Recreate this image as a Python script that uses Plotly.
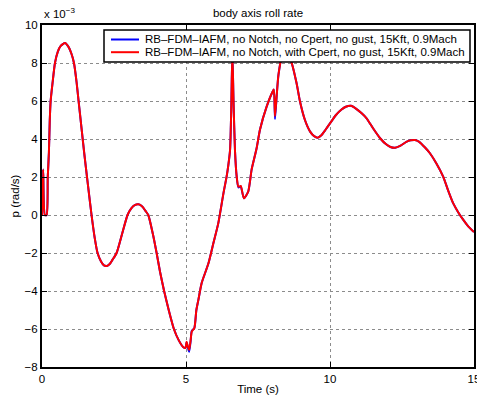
import plotly.graph_objects as go

# Time samples (s)
time_s = [
    0.00, 0.04, 0.10, 0.16, 0.20, 0.24, 0.27, 0.30, 0.37, 0.45,
    0.55, 0.65, 0.80, 0.92, 1.02, 1.11, 1.20, 1.27, 1.37, 1.47,
    1.57, 1.72, 1.83, 1.93, 2.05, 2.15, 2.25, 2.35, 2.45, 2.59,
    2.78, 2.97, 3.10, 3.22, 3.35, 3.48, 3.60, 3.69, 3.85, 3.98,
    4.10, 4.24, 4.40, 4.58, 4.75, 4.90, 4.98, 5.02, 5.07, 5.11,
    5.16, 5.20, 5.29, 5.36, 5.43, 5.54, 5.78, 5.95, 6.12, 6.30,
    6.41, 6.47, 6.53, 6.57, 6.61, 6.65, 6.70, 6.76, 6.82, 6.90,
    7.01, 7.16, 7.28, 7.45, 7.57, 7.80, 8.01, 8.05, 8.09, 8.15,
    8.21, 8.32, 8.45, 8.58, 8.67, 8.84, 8.96, 9.13, 9.31, 9.45,
    9.57, 9.70, 9.85, 10.00, 10.20, 10.40, 10.55, 10.73, 10.90, 11.10,
    11.27, 11.50, 11.74, 11.95, 12.10, 12.26, 12.45, 12.65, 12.80, 12.95,
    13.10, 13.30, 13.47, 13.70, 13.93, 14.10, 14.28, 14.45, 14.63, 14.80,
    15.00,
]

# Roll rate p (x 10^-3 rad/s), with Cpert
p_with_cpert = [
    0.00, 2.40, 0.00, 0.00, 2.00, 3.30, 5.00, 6.00, 7.00, 8.00,
    8.60, 8.90, 9.05, 8.85, 8.50, 8.00, 7.00, 6.00, 4.60, 3.20,
    1.90, 0.00, -1.20, -2.00, -2.45, -2.65, -2.68, -2.58, -2.35, -2.00,
    -1.00, 0.00, 0.35, 0.52, 0.56, 0.45, 0.20, 0.00, -1.00, -2.00,
    -3.00, -4.00, -5.00, -6.00, -6.60, -6.95, -7.00, -6.67, -6.95, -7.10,
    -6.60, -6.14, -5.95, -5.00, -4.47, -3.60, -2.54, -1.49, -0.44, 1.14,
    2.02, 2.63, 3.42, 5.50, 8.60, 6.00, 3.42, 2.02, 1.49, 1.53,
    0.88, 1.23, 2.40, 3.50, 4.50, 5.70, 6.50, 6.60, 5.20, 6.30,
    7.37, 8.25, 8.45, 8.35, 8.00, 6.93, 5.96, 5.00, 4.39, 4.15,
    4.07, 4.20, 4.50, 4.82, 5.25, 5.55, 5.70, 5.75, 5.60, 5.35,
    5.09, 4.55, 4.04, 3.72, 3.58, 3.54, 3.65, 3.85, 3.93, 3.95,
    3.85, 3.55, 3.25, 2.70, 2.02, 1.30, 0.61, 0.15, -0.26, -0.60,
    -0.90,
]

# Roll rate p (x 10^-3 rad/s), no Cpert
p_no_cpert = [
    0.00, 2.40, 0.00, 0.00, 2.00, 3.30, 5.00, 6.00, 7.00, 8.00,
    8.60, 8.90, 9.05, 8.85, 8.50, 8.00, 7.00, 6.00, 4.60, 3.20,
    1.90, 0.00, -1.20, -2.00, -2.45, -2.65, -2.68, -2.58, -2.35, -2.00,
    -1.00, 0.00, 0.35, 0.52, 0.56, 0.45, 0.20, 0.00, -1.00, -2.00,
    -3.00, -4.00, -5.00, -6.00, -6.60, -6.95, -7.00, -6.70, -7.00, -7.20,
    -6.65, -6.10, -5.95, -5.00, -4.47, -3.60, -2.54, -1.49, -0.44, 1.14,
    2.02, 2.63, 3.42, 5.50, 8.60, 6.00, 3.42, 2.02, 1.45, 1.50,
    0.88, 1.23, 2.40, 3.50, 4.50, 5.70, 6.50, 6.60, 5.05, 6.30,
    7.37, 8.25, 8.45, 8.35, 8.00, 6.93, 5.96, 5.00, 4.39, 4.15,
    4.07, 4.20, 4.50, 4.82, 5.25, 5.55, 5.70, 5.75, 5.60, 5.35,
    5.09, 4.55, 4.04, 3.72, 3.58, 3.54, 3.65, 3.85, 3.93, 3.95,
    3.85, 3.55, 3.25, 2.70, 2.02, 1.30, 0.61, 0.15, -0.26, -0.60,
    -0.90,
]

series_names = [
    "RB–FDM–IAFM, no Notch, no Cpert, no gust, 15Kft, 0.9Mach",
    "RB–FDM–IAFM, no Notch, with Cpert, no gust, 15Kft, 0.9Mach",
]
series_colors = ["#0000ff", "#ff0000"]

x_ticks = [0, 5, 10, 15]
y_ticks = [-8, -6, -4, -2, 0, 2, 4, 6, 8, 10]

FONT = "Liberation Sans, Arial, Helvetica, sans-serif"
FS = 11.5

# figure / plot-area geometry in pixels
W, H = 477, 401
ML, MR, MT, MB = 42, 3, 25, 34
PW, PH = W - ML - MR, H - MT - MB


def px_x(px):
    return (px - ML) / PW


def px_y(py):
    return 1 - (py - MT) / PH


fig = go.Figure()
for name, y, color in zip(series_names, [p_no_cpert, p_with_cpert], series_colors):
    fig.add_trace(go.Scatter(x=time_s, y=y, mode="lines", name=name, showlegend=False,
                             line=dict(color=color, width=2, shape="spline", smoothing=0.6)))

axis_common = dict(
    showline=True, linecolor="black", linewidth=2, mirror="ticks",
    ticks="inside", ticklen=5, tickcolor="black", tickwidth=1,
    showgrid=True, gridcolor="#8c8c8c", griddash="dot", gridwidth=1,
    zeroline=False, ticklabeloverflow="allow",
    tickfont=dict(family=FONT, size=FS, color="black"),
)

fig.update_layout(
    width=W, height=H,
    margin=dict(l=ML, r=MR, t=MT, b=MB, autoexpand=False),
    paper_bgcolor="white", plot_bgcolor="white",
    font=dict(family=FONT, size=FS, color="black"),
    title=dict(text="body axis roll rate", x=0.5, xref="paper", xanchor="center",
               y=1 - 12.5 / H, yanchor="middle", font=dict(size=FS)),
    xaxis=dict(range=[0, 15], tickvals=x_ticks,
               title=dict(text="Time (s)", standoff=1, font=dict(size=FS)),
               **axis_common),
    yaxis=dict(range=[-8, 10], tickvals=y_ticks,
               title=dict(text="p (rad/s)", standoff=3, font=dict(size=FS)),
               **axis_common),
    showlegend=False,
)

fig.add_annotation(text="x 10<sup>−3</sup>", xref="paper", yref="paper",
                   x=0, y=1 + 3 / PH, xanchor="left", yanchor="bottom",
                   showarrow=False, font=dict(family=FONT, size=FS))

# legend box drawn in paper coordinates
fig.add_shape(type="rect", xref="paper", yref="paper", layer="above",
              x0=px_x(104), x1=px_x(470), y0=px_y(62), y1=px_y(30),
              fillcolor="white", line=dict(color="black", width=1.5))
for i, (name, color) in enumerate(zip(series_names, series_colors)):
    yc = px_y(39.5 + 12.7 * i)
    fig.add_shape(type="line", xref="paper", yref="paper", layer="above",
                  x0=px_x(111), x1=px_x(139), y0=yc, y1=yc,
                  line=dict(color=color, width=2))
    fig.add_annotation(text=name, xref="paper", yref="paper", x=px_x(143), y=yc,
                       xanchor="left", yanchor="middle", showarrow=False,
                       font=dict(family=FONT, size=FS))

fig.write_html("out.html")
